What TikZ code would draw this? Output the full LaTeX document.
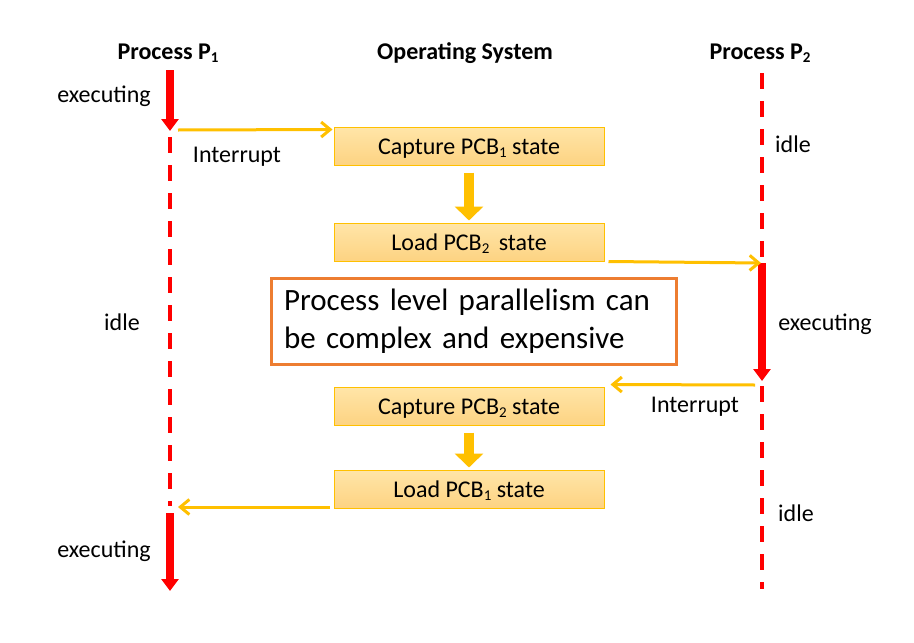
\documentclass[tikz,border=0pt]{standalone}
\usepackage{fontspec}
\setmainfont{Carlito}
\usetikzlibrary{arrows.meta,calc}
\definecolor{redl}{HTML}{FF0000}
\definecolor{yel}{HTML}{FFC000}
\definecolor{boxtop}{HTML}{FFE5A8}
\definecolor{boxbot}{HTML}{FDD382}
\definecolor{orng}{HTML}{ED7D31}
\newcommand{\subs}[1]{\raisebox{-0.3ex}{\fontsize{15}{15}\selectfont #1}}
\begin{document}
\begin{tikzpicture}[x=1pt,y=-1pt,
  lbl/.style={font=\fontsize{24}{28}\selectfont, inner sep=0pt, anchor=base},
  hdr/.style={font=\fontsize{24}{28}\selectfont\bfseries, inner sep=0pt, anchor=base},
  osbox/.style={draw=yel, line width=1pt, top color=boxtop, bottom color=boxbot,
    minimum width=270pt, minimum height=38pt, font=\fontsize{24}{28}\selectfont, inner sep=0pt,
    text height=20pt, text depth=4pt},
  run/.style={draw=redl, line width=8pt, -{Triangle[length=12pt,width=17pt]}},
  wait/.style={draw=redl, line width=4pt, dash pattern=on 16pt off 12pt},
  msg/.style={draw=yel, line width=3pt, -{Straight Barb[length=9pt,width=15pt]}},
  flow/.style={draw=yel, line width=10pt, -{Triangle[length=14pt,width=28pt]}}]
\useasboundingbox[fill=white] (0,0) rectangle (914,643);

% headers
\node[hdr] (h1) at (168,59) {Process P\subs{1}};
\node[hdr] (hos) at (465,59) {Operating System};
\node[hdr] (h2) at (760,59) {Process P\subs{2}};

% OS boxes
\node[osbox] (b1) at (469,146) {Capture PCB\subs{1} state};
\node[osbox] (b2) at (469,242) {Load PCB\subs{2}\hspace{4pt} state};
\node[osbox] (b3) at (469,406) {Capture PCB\subs{2} state};
\node[osbox] (b4) at (469,489) {Load PCB\subs{1} state};

% note
\node[draw=orng, line width=3pt, minimum width=405pt, minimum height=86pt,
      text width=380pt, inner xsep=12pt, align=left,
      font=\fontsize{31}{38}\selectfont] (note) at (474,321.5)
  {Process level parallelism can\\be complex and expensive};

% lifeline points P1
\coordinate (p1a) at (170,70);
\coordinate (p1b) at (170,131);
\coordinate (p1c) at (170,137);
\coordinate (p1d) at (170,506);
\coordinate (p1e) at (170,513);
\coordinate (p1f) at (170,591);
% lifeline points P2
\coordinate (p2a) at (762,73);
\coordinate (p2b) at (762,263);
\coordinate (p2c) at (762,381);
\coordinate (p2d) at (762,386);
\coordinate (p2e) at (762,589);

\draw[run] (p1a) -- (p1b);
\draw[wait] (p1c) -- (p1d);
\draw[run] (p1e) -- (p1f);
\draw[wait] (p2a) -- (p2b);
\draw[run] (p2b) -- (p2c);
\draw[wait] (p2d) -- (p2e);

% messages
\coordinate (m1s) at (178,130);
\draw[msg] (m1s) -- ($(b1.north west)+(-1,3)$);
\draw[msg] ($(b2.south east)+(4,0)$) -- ($(p2b)+(-1,0)$);
\coordinate (m3s) at (755,385);
\draw[msg] (m3s) -- ($(b3.north east)+(6,-2)$);
\coordinate (m4e) at (178,507);
\draw[msg] ($(b4.south west)+(-4,-1.5)$) -- (m4e);

% OS flow
\draw[flow] ($(b1.south)+(0,7)$) -- ($(b2.north)+(0,-2)$);
\draw[flow] ($(b3.south)+(0,7)$) -- ($(b4.north)+(0,-2)$);

% labels
\node[lbl] (e1) at (104,102) {executing};
\node[lbl] (i1) at (237,162) {Interrupt};
\node[lbl] (d1) at (793,152) {idle};
\node[lbl] (d2) at (122,330) {idle};
\node[lbl] (e2) at (825,330) {executing};
\node[lbl] (i2) at (695,412) {Interrupt};
\node[lbl] (d3) at (796,521) {idle};
\node[lbl] (e3) at (104,557) {executing};
\end{tikzpicture}
\end{document}
